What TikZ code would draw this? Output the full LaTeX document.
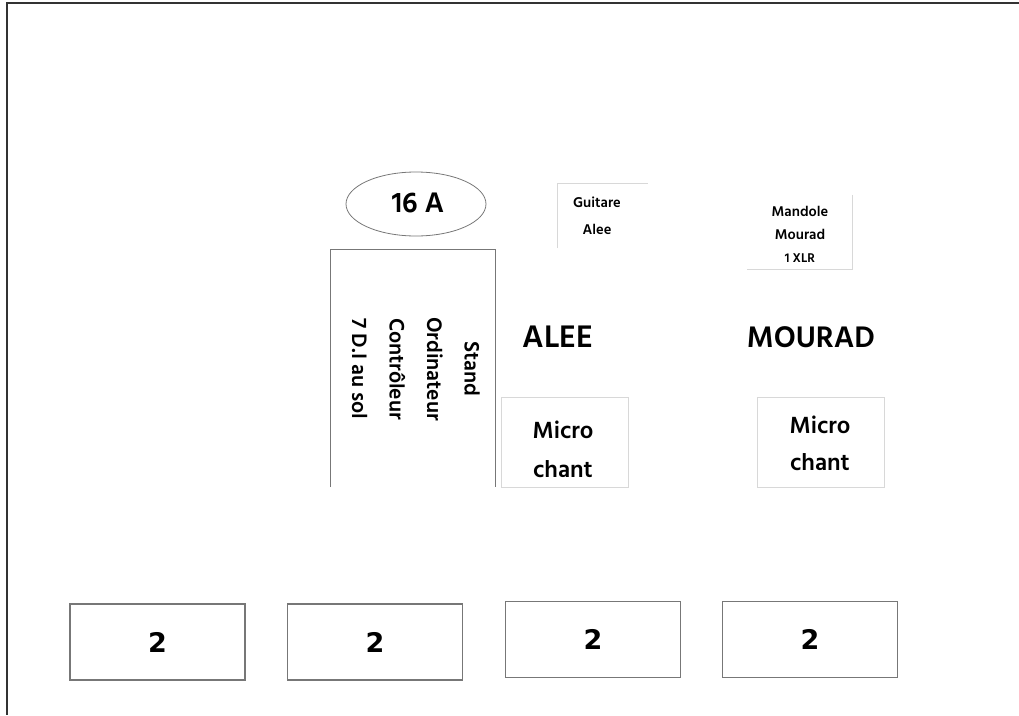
\documentclass[tikz,border=0pt]{standalone}
\usepackage{fontspec}
\setmainfont{Hind Siliguri}
\newfontfamily\digitfont{DejaVu Sans}
\usetikzlibrary{shapes.geometric}
\definecolor{framec}{HTML}{333333}
\definecolor{midgray}{HTML}{777777}
\definecolor{lightgray}{HTML}{D8D8D8}
\tikzset{
  lbl/.style={font=\bfseries, align=center, inner sep=0pt},
  spk/.style={draw=midgray, line width=1.2pt, minimum width=175pt, minimum height=76pt, inner sep=0pt},
  micbox/.style={draw=lightgray, line width=0.9pt, inner sep=0pt},
}
\begin{document}
\begin{tikzpicture}[x=1pt,y=-1pt]
\useasboundingbox (0,0) rectangle (1019,715);
% frame
\coordinate (ftl) at (7,3);
\coordinate (ftr) at (1019,3);
\coordinate (fbl) at (7,715);
\draw[framec, line width=2pt] (ftr) -- (ftl) -- (fbl);

% 16 A ellipse
\node[ellipse, draw=midgray, line width=0.8pt, minimum width=140pt, minimum height=64pt, inner sep=0pt] (amp) at (416,204) {};
\node[lbl, font=\bfseries\fontsize{29}{30}\selectfont] (amptxt) at (418,203) {16 A};

% Stand box (open at bottom)
\node[minimum width=164pt, minimum height=237pt, inner sep=0pt] (stand) at (413,368.5) {};
\draw[midgray, line width=0.9pt] (stand.south west) -- (stand.north west) -- (stand.north east) -- (stand.south east);
\node[lbl, rotate=-90, font=\bfseries\fontsize{21.5}{37.5}\selectfont] (standtxt) at (416,369) {Stand\\Ordinateur\\Contrôleur\\7 D.I au sol};

% Guitare Alee box (top and left edges)
\node[minimum width=90pt, minimum height=64pt, inner sep=0pt] (guit) at (603,216) {};
\draw[lightgray, line width=1pt] (guit.south west) -- (guit.north west) -- (guit.north east);
\node[lbl, font=\bfseries\fontsize{14.5}{27}\selectfont] (guittxt) at (597,216) {Guitare\\Alee};

% Mandole box (right and bottom edges)
\node[minimum width=105pt, minimum height=74pt, inner sep=0pt] (mand) at (800,232) {};
\draw[lightgray, line width=1pt] (mand.north east) -- (mand.south east) -- (mand.south west);
\node[lbl, font=\bfseries\fontsize{14.5}{23}\selectfont] (mandtxt) at (800,234) {Mandole\\Mourad\\{\fontsize{13}{23}\selectfont 1 XLR}};

% names
\node[lbl, font=\bfseries\fontsize{32}{34}\selectfont] (alee) at (558,337) {ALEE};
\node[lbl, font=\bfseries\fontsize{30.5}{34}\selectfont] (mourad) at (811,337) {MOURAD};

% micro chant boxes
\node[micbox, minimum width=127pt, minimum height=90pt] (mic1) at (564.5,442) {};
\node[lbl, font=\bfseries\fontsize{24}{39}\selectfont] (mic1txt) at (563,449) {Micro\\chant};
\node[micbox, minimum width=127pt, minimum height=90pt] (mic2) at (820.5,442) {};
\node[lbl, font=\bfseries\fontsize{24}{37}\selectfont] (mic2txt) at (820,443) {Micro\\chant};

% bottom boxes
\node[spk, font=\digitfont\bfseries\fontsize{27}{30}\selectfont] (s1) at (157.5,642) {2};
\node[spk, font=\digitfont\bfseries\fontsize{27}{30}\selectfont] (s2) at (375,642) {2};
\node[spk, font=\digitfont\bfseries\fontsize{27}{30}\selectfont] (s3) at (593,639.5) {2};
\node[spk, font=\digitfont\bfseries\fontsize{27}{30}\selectfont] (s4) at (810,639.5) {2};
\end{tikzpicture}
\end{document}
